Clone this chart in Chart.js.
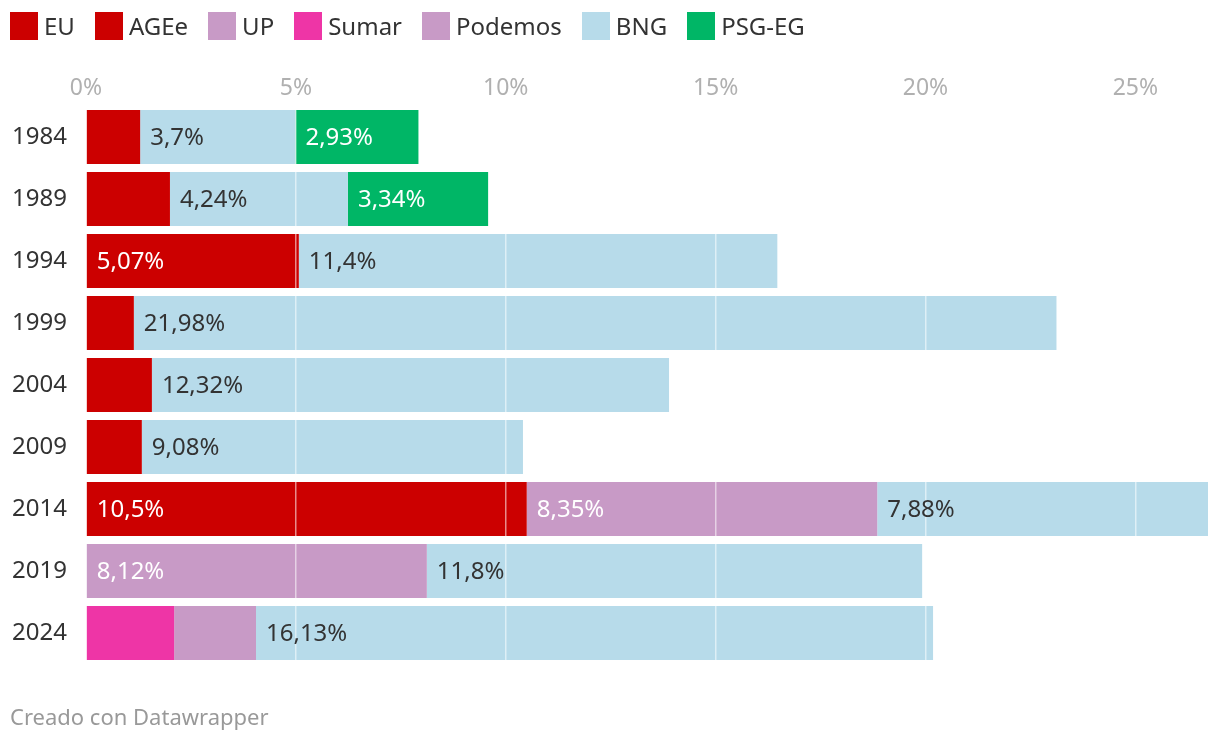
<!DOCTYPE html>
<html>
<head>
<meta charset="utf-8">
<script src="https://cdn.jsdelivr.net/npm/chart.js@4.4.1/dist/chart.umd.min.js"></script>
<style>
  html, body { margin: 0; padding: 0; background: #fff; }
  #wrap { position: relative; width: 1220px; height: 742px; font-family: 'Noto Sans', sans-serif; }
  #legend { position: absolute; left: 10px; top: 12px; display: flex; gap: 20px; }
  #legend span { display: flex; align-items: center; font-size: 24px; color: #333; line-height: 28px; }
  #legend i { display: inline-block; width: 28px; height: 28px; margin-right: 6px; }
  #chartBox { position: absolute; left: 0; top: 0; }
  #footer { position: absolute; left: 10px; top: 701px; font-size: 22px; color: #999; }
</style>
</head>
<body>
<div id="wrap">
  <div id="chartBox"><canvas id="votos" width="1220" height="742"></canvas></div>
  <div id="legend"></div>
  <div id="footer">Creado con Datawrapper</div>
</div>
<script>
const years = ['1984', '1989', '1994', '1999', '2004', '2009', '2014', '2019', '2024'];
const eu      = [1.29, 2.0, 5.07, 1.14, 1.57, 1.33, null, null, null];
const agee    = [null, null, null, null, null, null, 10.5, null, null];
const up      = [null, null, null, null, null, null, null, 8.12, null];
const sumar   = [null, null, null, null, null, null, null, null, 2.1];
const podemos = [null, null, null, null, null, null, 8.35, null, 1.95];
const bng     = [3.7, 4.24, 11.4, 21.98, 12.32, 9.08, 7.88, 11.8, 16.13];
const psgeg   = [2.93, 3.34, null, null, null, null, null, null, null];
const xTicks  = [0, 5, 10, 15, 20, 25];

const series = [
  { label: 'EU', data: eu, color: '#cc0000', text: '#fff' },
  { label: 'AGEe', data: agee, color: '#cc0000', text: '#fff' },
  { label: 'UP', data: up, color: '#c89ac6', text: '#fff' },
  { label: 'Sumar', data: sumar, color: '#ee35a6', text: '#fff' },
  { label: 'Podemos', data: podemos, color: '#c89ac6', text: '#fff' },
  { label: 'BNG', data: bng, color: '#b7dbea', text: '#333' },
  { label: 'PSG-EG', data: psgeg, color: '#00b666', text: '#fff' }
];

// legend
const legend = document.getElementById('legend');
series.forEach(s => {
  const item = document.createElement('span');
  item.innerHTML = '<i style="background:' + s.color + '"></i>' + s.label;
  legend.appendChild(item);
});

// largest stacked total sets the end of the axis
const totals = years.map((y, i) => series.reduce((s, d) => s + (d.data[i] || 0), 0));
const xMax = Math.max(...totals);

const fmt = v => String(v).replace('.', ',') + '%';

Chart.defaults.font.family = "'Noto Sans', sans-serif";

const segmentLabels = {
  id: 'segmentLabels',
  afterDraw(chart) {
    const ctx = chart.ctx;
    ctx.save();
    ctx.font = "24px 'Noto Sans', sans-serif";
    ctx.textBaseline = 'middle';
    ctx.textAlign = 'left';
    chart.data.datasets.forEach((ds, di) => {
      const meta = chart.getDatasetMeta(di);
      meta.data.forEach((bar, i) => {
        const v = ds.data[i];
        if (v == null || v < 2.5) return;
        ctx.fillStyle = series[di].text;
        ctx.fillText(fmt(v), Math.min(bar.x, bar.base) + 10, bar.y + 1);
      });
    });
    ctx.restore();
  }
};

new Chart(document.getElementById('votos'), {
  type: 'bar',
  data: {
    labels: years,
    datasets: series.map(s => ({
      label: s.label,
      data: s.data,
      backgroundColor: s.color,
      borderWidth: 0,
      categoryPercentage: 1,
      barPercentage: 0.871
    }))
  },
  options: {
    indexAxis: 'y',
    responsive: false,
    animation: false,
    layout: { padding: { left: 10, right: 12, top: 0, bottom: 78 } },
    scales: {
      x: {
        stacked: true,
        position: 'top',
        min: 0,
        max: xMax,
        border: { display: false },
        grid: { color: 'rgba(255,255,255,0.55)', lineWidth: 1.5, drawTicks: false, z: 1 },
        afterBuildTicks: axis => { axis.ticks = xTicks.map(v => ({ value: v })); },
        afterFit: axis => { axis.height = 106; },
        ticks: {
          includeBounds: false,
          padding: 4,
          color: '#b0b0b0',
          font: { size: 23 },
          callback: v => v + '%'
        }
      },
      y: {
        stacked: true,
        border: { display: false },
        grid: { display: false },
        afterFit: axis => { axis.width = 76; },
        ticks: { color: '#333', font: { size: 24 }, padding: 11 }
      }
    },
    plugins: {
      tooltip: { enabled: false },
      legend: { display: false }
    }
  },
  plugins: [segmentLabels]
});
</script>
</body>
</html>
